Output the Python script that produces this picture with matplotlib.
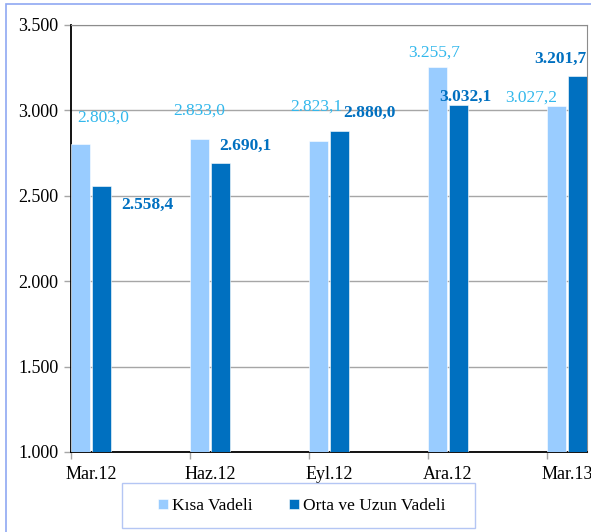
import matplotlib.pyplot as plt
import numpy as np
from matplotlib.patches import Rectangle

# Veriler (milyon)
donemler = ['Mar.12', 'Haz.12', 'Eyl.12', 'Ara.12', 'Mar.13']
kisa_vadeli = [2803.0, 2833.0, 2823.1, 3255.7, 3027.2]
orta_uzun_vadeli = [2558.4, 2690.1, 2880.0, 3032.1, 3201.7]

# Etiketlerin çubuk tepesine göre kaydırması (piksel)
kisa_ofset = [(23, 26), (0, 28), (-2, 34), (-3, 14), (-25, 8)]
orta_ofset = [(46, -19), (25, 17), (30, 18), (7, 8), (-17, 17)]

ACIK = '#99CCFF'
KOYU = '#0070C0'
ACIK_YAZI = '#33B8EC'

plt.rcParams['font.family'] = 'serif'
plt.rcParams['font.serif'] = ['Liberation Serif', 'DejaVu Serif']

fig = plt.figure(figsize=(5.91, 5.32), dpi=100)
ax = fig.add_axes([71 / 591, 1 - 452 / 532, 516 / 591, 427 / 532])

# dış çerçeve
fig.patches.append(Rectangle((6 / 591, -0.05), 1.1, 1 - 4 / 532 + 0.05,
                             transform=fig.transFigure, fill=False,
                             edgecolor='#8FA8F2', linewidth=1.2))
# lejant çerçevesi
fig.patches.append(Rectangle((122 / 591, 4 / 532), 353 / 591, 45 / 532,
                             transform=fig.transFigure, fill=False,
                             edgecolor='#B4C6F4', linewidth=1))

x = np.arange(len(donemler))
g = 19 / 119
b1 = ax.bar(x, kisa_vadeli, width=g, align='edge', color=ACIK,
            edgecolor='white', linewidth=0.4, label='Kısa Vadeli', zorder=3)
b2 = ax.bar(x + 21 / 119, orta_uzun_vadeli, width=g, align='edge', color=KOYU,
            edgecolor='white', linewidth=0.4, label='Orta ve Uzun Vadeli', zorder=3)

def etiket(v):
    s = f'{v:,.1f}'
    return s.replace(',', 'X').replace('.', ',').replace('X', '.')

for bar, v, (dx, dy) in zip(b1, kisa_vadeli, kisa_ofset):
    ax.annotate(etiket(v), (bar.get_x() + bar.get_width() / 2, v),
                xytext=(dx, dy), textcoords='offset pixels',
                ha='center', va='center', fontsize=12.5, color=ACIK_YAZI,
                annotation_clip=False)
for bar, v, (dx, dy) in zip(b2, orta_uzun_vadeli, orta_ofset):
    ax.annotate(etiket(v), (bar.get_x() + bar.get_width() / 2, v),
                xytext=(dx, dy), textcoords='offset pixels',
                ha='center', va='center', fontsize=12.5, color=KOYU,
                fontweight='bold', annotation_clip=False)

ax.set_ylim(1000, 3500)
ax.set_xlim(0, 516 / 119)
yt = np.arange(1000, 3501, 500)
ax.set_yticks(yt)
ax.set_yticklabels([f'{int(t):,}'.replace(',', '.') for t in yt], fontsize=13)
ax.set_xticks(x)
ax.set_xticklabels([])
for i, d in enumerate(donemler):
    ax.text(i + 20 / 119, -0.032, d, transform=ax.get_xaxis_transform(),
            ha='center', va='top', fontsize=13)

ax.grid(axis='y', color='#A6A6A6', linewidth=1, zorder=0)
ax.tick_params(axis='both', color='#A6A6A6', length=5, width=1)
ax.tick_params(axis='y', pad=4)
for s in ['top', 'right']:
    ax.spines[s].set_color('#8C8C8C')
for s in ['left', 'bottom']:
    ax.spines[s].set_color('black')
    ax.spines[s].set_linewidth(1.3)

leg = fig.legend(loc='center', bbox_to_anchor=(302 / 591, 1 - 506 / 532),
                 ncol=2, fontsize=12.5, frameon=False,
                 handlelength=0.55, handleheight=0.55, handletextpad=0.25,
                 borderpad=0, columnspacing=2.1)

fig.savefig('out.png', dpi=100)
